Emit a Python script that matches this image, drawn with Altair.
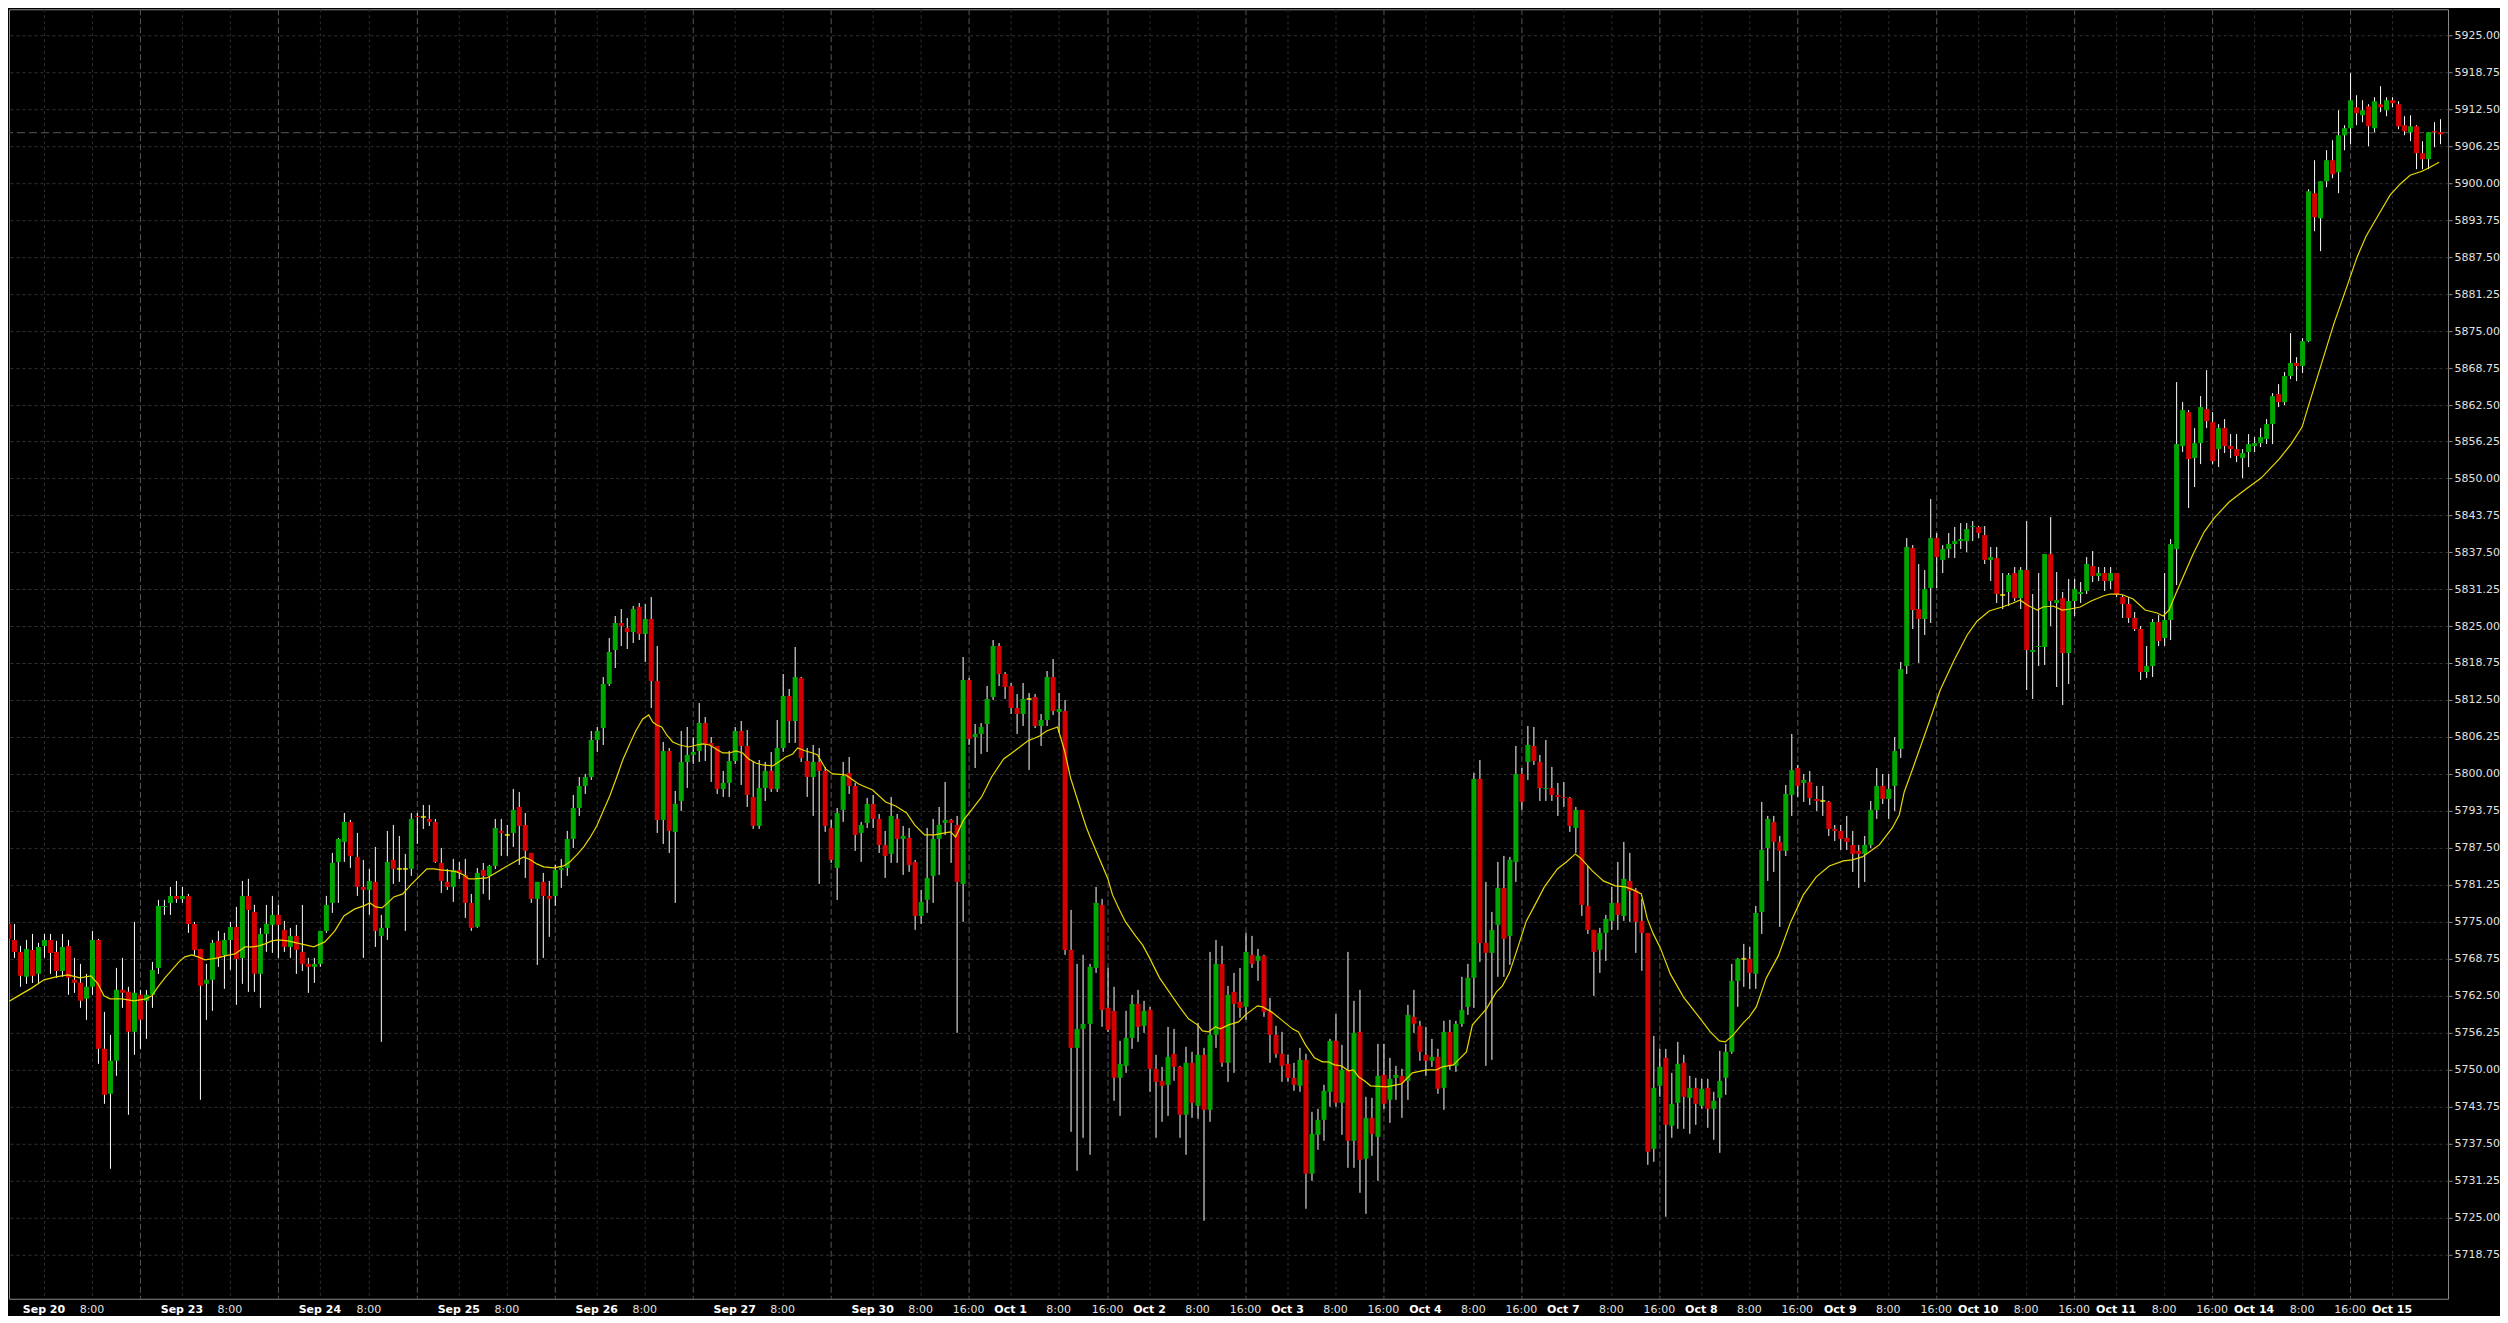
import altair as alt
import pandas as pd

# ---------------- data (hourly candles, Sep 19 17:00 .. Oct 15 8:00) ----------------
opens = [
    5774.75, 5772.0, 5770.0, 5765.75, 5770.25, 5766.25, 5771.0, 5772.0, 5770.0, 5766.75,
    5771.0, 5765.25, 5764.75, 5762.0, 5764.0, 5772.0, 5753.5, 5746.0, 5751.5, 5763.5,
    5763.25, 5756.5, 5762.75, 5761.75, 5762.75, 5767.25, 5777.5, 5778.25, 5779.5, 5779.0,
    5779.5, 5774.75, 5770.5, 5764.5, 5765.25, 5771.75, 5769.5, 5772.0, 5774.25, 5769.0,
    5779.5, 5776.75, 5766.25, 5773.0, 5774.5, 5776.25, 5773.75, 5770.75, 5772.75, 5770.0,
    5768.0, 5767.5, 5768.0, 5773.5, 5778.25, 5785.25, 5788.5, 5792.0, 5786.0, 5781.0,
    5780.5, 5781.75, 5772.75, 5774.0, 5785.5, 5784.0, 5784.0, 5784.0, 5793.0, 5792.75,
    5792.5, 5792.0, 5785.0, 5781.75, 5781.0, 5783.75, 5783.0, 5778.25, 5774.25, 5783.75,
    5782.75, 5784.5, 5790.5, 5789.75, 5790.0, 5794.5, 5791.5, 5786.75, 5779.0, 5781.75,
    5779.5, 5779.5, 5783.75, 5784.25, 5789.0, 5794.25, 5798.0, 5799.5, 5805.75, 5807.75,
    5815.25, 5821.0, 5825.5, 5824.75, 5824.0, 5828.25, 5823.75, 5826.25, 5815.75, 5792.25,
    5804.0, 5790.25, 5795.5, 5802.0, 5803.25, 5804.0, 5808.75, 5805.25, 5804.75, 5797.5,
    5798.5, 5802.25, 5807.25, 5804.75, 5796.25, 5791.25, 5797.75, 5800.5, 5797.5, 5804.5,
    5813.25, 5809.0, 5816.25, 5802.25, 5799.5, 5802.0, 5800.5, 5791.0, 5784.25, 5794.0,
    5800.25, 5798.0, 5790.0, 5791.75, 5795.0, 5792.5, 5788.0, 5786.5, 5792.5, 5789.0,
    5789.25, 5785.25, 5776.0, 5778.75, 5782.75, 5789.0, 5791.75, 5792.25, 5791.5, 5781.5,
    5816.0, 5806.25, 5806.75, 5808.5, 5813.0, 5821.75, 5817.0, 5815.0, 5811.25, 5810.25,
    5812.75, 5813.0, 5808.25, 5809.25, 5816.5, 5810.5, 5810.75, 5770.25, 5753.75, 5757.0,
    5757.75, 5767.25, 5778.0, 5760.5, 5760.0, 5748.75, 5750.75, 5755.5, 5761.25, 5757.5,
    5760.25, 5750.25, 5748.25, 5747.5, 5752.75, 5750.5, 5742.5, 5751.25, 5744.0, 5752.5,
    5743.25, 5756.0, 5768.0, 5751.25, 5763.25, 5761.5, 5760.75, 5769.5, 5768.5, 5769.25,
    5759.75, 5756.0, 5752.75, 5751.0, 5748.75, 5747.25, 5751.75, 5732.5, 5739.0, 5741.5,
    5746.25, 5755.0, 5744.5, 5750.0, 5738.0, 5756.5, 5735.0, 5742.0, 5738.75, 5749.25,
    5745.0, 5748.75, 5749.0, 5748.25, 5759.0, 5757.5, 5752.5, 5751.5, 5752.25, 5747.0,
    5756.5, 5750.75, 5757.75, 5760.75, 5765.5, 5799.25, 5771.5, 5769.75, 5774.5, 5780.75,
    5772.75, 5785.25, 5800.0, 5802.0, 5804.75, 5802.0, 5797.5, 5797.75, 5796.5, 5796.25,
    5796.0, 5791.0, 5794.0, 5777.75, 5773.75, 5770.25, 5773.25, 5775.25, 5778.25, 5776.0,
    5782.0, 5780.5, 5775.25, 5773.25, 5736.75, 5747.25, 5752.0, 5740.5, 5744.5, 5751.25,
    5745.25, 5747.0, 5744.0, 5747.0, 5743.5, 5745.25, 5748.75, 5753.0, 5765.0, 5768.75,
    5768.75, 5766.25, 5776.75, 5787.5, 5792.0, 5788.5, 5787.0, 5796.5, 5801.0, 5798.5,
    5798.75, 5795.75, 5795.5, 5795.25, 5790.75, 5790.5, 5789.25, 5788.0, 5787.0, 5786.5,
    5788.0, 5794.0, 5798.0, 5795.75, 5798.0, 5804.25, 5818.25, 5838.25, 5828.0, 5826.25,
    5831.5, 5840.0, 5836.25, 5838.0, 5839.0, 5839.5, 5839.5, 5841.75, 5841.75, 5840.5,
    5836.25, 5836.5, 5830.25, 5830.75, 5834.0, 5829.75, 5834.5, 5820.75, 5821.5, 5821.5,
    5837.25, 5829.0, 5829.75, 5820.5, 5829.25, 5830.5, 5831.0, 5835.25, 5833.5, 5834.0,
    5832.75, 5834.0, 5830.0, 5828.75, 5826.5, 5824.5, 5817.25, 5818.25, 5825.75, 5823.0,
    5826.0, 5838.0, 5855.5, 5861.25, 5853.5, 5856.0, 5861.75, 5859.5, 5855.0, 5858.5,
    5855.5, 5855.0, 5853.5, 5854.5, 5855.5, 5856.0, 5856.75, 5859.25, 5864.25, 5863.0,
    5867.25, 5869.5, 5869.0, 5873.25, 5898.25, 5894.0, 5900.25, 5903.75, 5901.75, 5908.0,
    5909.25, 5912.75, 5911.5, 5913.0, 5909.25, 5913.25, 5912.25, 5914.0, 5913.25, 5909.75,
    5908.5, 5909.5, 5905.0, 5904.0, 5908.75, 5908.5,
]
highs = [
    5776.75, 5774.75, 5771.0, 5772.0, 5773.0, 5771.5, 5773.0, 5773.0, 5771.75, 5773.0,
    5772.0, 5769.0, 5768.0, 5766.25, 5773.5, 5772.25, 5759.75, 5756.0, 5767.25, 5769.0,
    5764.0, 5775.0, 5763.5, 5763.5, 5768.25, 5778.75, 5778.75, 5781.0, 5782.0, 5781.0,
    5779.75, 5775.0, 5770.5, 5768.0, 5772.0, 5773.5, 5773.25, 5775.0, 5777.5, 5782.0,
    5782.25, 5778.0, 5774.0, 5778.0, 5779.5, 5778.0, 5775.25, 5774.0, 5774.5, 5778.0,
    5769.0, 5769.0, 5773.5, 5779.5, 5786.75, 5789.25, 5793.5, 5792.25, 5790.0, 5785.5,
    5784.0, 5787.75, 5776.25, 5790.5, 5791.5, 5789.5, 5786.5, 5793.5, 5793.5, 5794.75,
    5794.75, 5792.5, 5787.5, 5784.0, 5785.75, 5785.25, 5785.75, 5779.75, 5784.25, 5785.0,
    5784.75, 5792.5, 5792.5, 5791.5, 5797.5, 5797.0, 5793.5, 5786.75, 5781.75, 5783.25,
    5782.0, 5784.75, 5785.75, 5790.5, 5796.5, 5799.5, 5800.0, 5807.25, 5808.0, 5816.5,
    5823.0, 5826.75, 5828.0, 5826.5, 5828.5, 5829.0, 5828.75, 5830.0, 5821.75, 5805.5,
    5804.5, 5797.25, 5807.25, 5808.0, 5806.25, 5812.0, 5809.75, 5806.25, 5804.75, 5800.5,
    5804.0, 5808.0, 5809.0, 5807.5, 5802.25, 5802.5, 5802.0, 5803.75, 5809.25, 5817.0,
    5814.5, 5821.5, 5816.5, 5804.5, 5805.0, 5804.5, 5801.25, 5792.25, 5794.25, 5802.0,
    5803.0, 5798.5, 5792.0, 5796.0, 5796.5, 5793.25, 5790.5, 5796.25, 5793.25, 5791.25,
    5791.0, 5785.5, 5780.5, 5791.0, 5792.5, 5794.5, 5798.75, 5792.5, 5793.0, 5819.75,
    5816.25, 5808.5, 5808.75, 5815.0, 5822.75, 5822.25, 5817.25, 5815.5, 5813.5, 5815.5,
    5813.75, 5813.5, 5810.25, 5817.5, 5819.5, 5813.75, 5812.5, 5777.0, 5768.0, 5769.5,
    5768.0, 5781.0, 5779.0, 5767.25, 5764.0, 5755.0, 5760.0, 5762.75, 5763.5, 5761.75,
    5760.75, 5752.5, 5750.5, 5757.25, 5757.0, 5750.75, 5754.0, 5753.0, 5758.0, 5753.75,
    5770.0, 5772.0, 5771.0, 5764.25, 5766.5, 5767.25, 5773.25, 5772.75, 5770.5, 5769.5,
    5762.25, 5757.5, 5756.5, 5752.5, 5751.25, 5753.75, 5752.75, 5743.0, 5743.5, 5747.5,
    5755.25, 5759.5, 5754.25, 5770.0, 5761.75, 5763.5, 5745.5, 5745.25, 5754.5, 5754.5,
    5752.0, 5750.75, 5750.25, 5761.0, 5763.5, 5758.25, 5757.25, 5755.25, 5753.5, 5758.25,
    5758.5, 5758.25, 5765.75, 5768.0, 5800.25, 5802.5, 5781.75, 5776.75, 5785.25, 5786.25,
    5786.0, 5804.75, 5801.0, 5808.25, 5808.0, 5803.25, 5805.75, 5801.25, 5798.5, 5798.75,
    5796.25, 5794.5, 5794.0, 5784.5, 5773.75, 5774.0, 5776.25, 5781.0, 5785.25, 5788.5,
    5786.75, 5780.75, 5779.0, 5773.25, 5755.75, 5753.5, 5753.5, 5749.5, 5754.75, 5752.5,
    5749.0, 5748.75, 5748.5, 5748.5, 5746.25, 5753.25, 5754.5, 5768.0, 5769.0, 5771.25,
    5770.75, 5777.75, 5795.25, 5793.0, 5793.0, 5789.5, 5798.25, 5806.75, 5801.5, 5800.0,
    5800.5, 5798.0, 5798.0, 5795.5, 5791.5, 5791.5, 5793.0, 5790.5, 5788.0, 5789.5,
    5795.5, 5801.0, 5800.0, 5800.0, 5806.25, 5819.0, 5840.0, 5838.75, 5835.5, 5834.5,
    5846.5, 5840.75, 5838.75, 5840.75, 5841.75, 5842.5, 5842.5, 5842.75, 5842.0, 5842.0,
    5838.5, 5838.5, 5834.0, 5834.0, 5835.0, 5835.0, 5842.75, 5830.5, 5834.0, 5837.25,
    5843.5, 5834.25, 5830.75, 5833.0, 5833.0, 5832.5, 5836.75, 5837.75, 5835.0, 5835.0,
    5835.0, 5834.0, 5830.25, 5830.0, 5827.5, 5825.0, 5821.75, 5826.25, 5827.0, 5834.0,
    5839.75, 5866.25, 5863.0, 5861.5, 5858.5, 5864.0, 5868.25, 5861.25, 5859.25, 5860.0,
    5857.5, 5857.5, 5855.0, 5857.5, 5857.0, 5858.5, 5860.0, 5864.5, 5866.0, 5868.0,
    5874.5, 5870.5, 5873.75, 5899.0, 5903.75, 5900.25, 5905.5, 5907.25, 5912.25, 5909.75,
    5918.5, 5914.75, 5914.0, 5913.25, 5914.5, 5916.25, 5914.5, 5914.5, 5913.75, 5911.25,
    5911.5, 5909.75, 5907.0, 5908.5, 5910.25, 5910.75,
]
lows = [
    5768.5, 5769.0, 5764.0, 5764.5, 5764.75, 5764.75, 5769.0, 5766.25, 5765.5, 5765.75,
    5762.75, 5763.0, 5760.5, 5758.5, 5762.75, 5751.0, 5744.25, 5733.25, 5749.0, 5760.5,
    5742.5, 5752.5, 5753.5, 5755.25, 5760.5, 5766.25, 5776.25, 5776.25, 5778.25, 5778.25,
    5773.25, 5769.5, 5745.0, 5758.5, 5760.0, 5767.5, 5763.75, 5767.0, 5761.0, 5764.5,
    5763.25, 5763.25, 5760.5, 5770.0, 5769.75, 5769.0, 5770.0, 5769.0, 5766.25, 5766.75,
    5763.0, 5764.75, 5767.5, 5773.25, 5776.5, 5778.25, 5785.25, 5784.25, 5779.5, 5769.0,
    5776.25, 5770.75, 5754.75, 5772.0, 5781.5, 5781.75, 5773.5, 5782.75, 5788.25, 5790.75,
    5791.25, 5785.0, 5780.0, 5780.5, 5778.5, 5782.25, 5775.75, 5773.5, 5774.0, 5779.75,
    5778.75, 5784.0, 5786.25, 5786.25, 5787.75, 5784.75, 5782.5, 5778.25, 5767.75, 5769.0,
    5772.5, 5777.75, 5780.75, 5782.75, 5787.5, 5793.0, 5796.75, 5799.0, 5803.75, 5805.0,
    5815.0, 5818.0, 5821.75, 5821.25, 5822.25, 5822.75, 5819.0, 5811.25, 5790.0, 5788.25,
    5786.75, 5778.25, 5793.75, 5797.75, 5801.75, 5802.0, 5802.25, 5798.75, 5796.75, 5796.25,
    5796.25, 5801.75, 5798.25, 5794.5, 5790.75, 5790.75, 5795.5, 5797.0, 5797.0, 5803.75,
    5805.25, 5805.25, 5802.0, 5796.25, 5793.0, 5781.5, 5790.25, 5785.0, 5778.75, 5792.0,
    5796.75, 5787.0, 5785.25, 5791.0, 5791.0, 5786.75, 5782.5, 5785.0, 5785.0, 5783.0,
    5783.5, 5773.75, 5774.75, 5776.5, 5778.25, 5783.0, 5789.75, 5785.0, 5756.25, 5775.0,
    5805.0, 5801.0, 5803.5, 5803.75, 5812.5, 5815.0, 5812.75, 5810.25, 5806.75, 5808.25,
    5800.75, 5807.75, 5804.75, 5808.25, 5810.0, 5807.0, 5769.5, 5739.5, 5733.0, 5738.5,
    5735.75, 5766.5, 5757.25, 5756.5, 5744.75, 5742.25, 5749.5, 5753.5, 5754.75, 5756.25,
    5746.25, 5738.5, 5741.25, 5742.25, 5748.25, 5738.5, 5735.75, 5742.0, 5741.75, 5724.5,
    5741.25, 5753.75, 5750.5, 5748.0, 5749.5, 5758.75, 5758.5, 5767.25, 5765.0, 5759.0,
    5751.25, 5752.0, 5748.0, 5748.0, 5746.5, 5746.25, 5726.5, 5731.25, 5736.5, 5738.0,
    5743.75, 5743.75, 5739.0, 5733.5, 5733.5, 5729.25, 5725.75, 5735.5, 5731.25, 5743.5,
    5741.0, 5745.0, 5742.0, 5745.0, 5756.25, 5751.5, 5749.0, 5750.5, 5746.0, 5743.25,
    5750.0, 5749.75, 5757.25, 5759.25, 5760.5, 5768.25, 5750.75, 5751.75, 5765.75, 5765.75,
    5767.75, 5781.75, 5794.0, 5799.0, 5801.5, 5795.5, 5795.5, 5795.5, 5793.0, 5794.5,
    5790.25, 5786.75, 5776.0, 5773.0, 5762.5, 5766.5, 5768.5, 5773.75, 5773.75, 5775.25,
    5775.0, 5769.75, 5766.75, 5734.0, 5734.5, 5745.5, 5725.25, 5738.5, 5740.0, 5740.0,
    5739.25, 5740.75, 5743.5, 5740.25, 5738.25, 5736.0, 5745.75, 5752.75, 5760.75, 5764.0,
    5763.75, 5763.75, 5773.0, 5782.0, 5783.5, 5774.25, 5786.25, 5793.0, 5796.25, 5795.25,
    5794.75, 5793.75, 5793.0, 5789.5, 5788.75, 5787.25, 5787.25, 5783.5, 5780.75, 5781.75,
    5787.5, 5792.5, 5795.0, 5792.5, 5793.75, 5802.75, 5817.0, 5824.5, 5818.75, 5823.5,
    5825.5, 5831.5, 5834.0, 5836.5, 5836.5, 5838.0, 5837.5, 5839.5, 5840.0, 5835.5,
    5832.75, 5829.0, 5828.0, 5828.5, 5829.25, 5828.0, 5814.25, 5812.75, 5818.25, 5818.5,
    5825.0, 5814.75, 5811.75, 5815.25, 5826.75, 5829.0, 5830.5, 5832.5, 5832.75, 5831.0,
    5831.25, 5830.0, 5826.5, 5825.5, 5824.25, 5816.0, 5816.25, 5816.5, 5821.75, 5821.75,
    5822.75, 5832.0, 5854.5, 5845.0, 5848.5, 5852.5, 5858.5, 5852.5, 5852.0, 5854.25,
    5853.5, 5852.75, 5850.0, 5852.0, 5854.5, 5855.25, 5855.75, 5855.75, 5862.0, 5862.5,
    5866.75, 5866.5, 5867.75, 5873.0, 5891.75, 5888.5, 5899.25, 5900.75, 5898.25, 5905.5,
    5906.5, 5909.75, 5910.25, 5906.25, 5908.5, 5912.0, 5911.25, 5912.75, 5909.0, 5908.0,
    5907.0, 5902.25, 5902.25, 5902.25, 5906.0, 5906.5,
]
closes = [
    5772.25, 5770.0, 5766.0, 5770.5, 5766.0, 5770.75, 5772.0, 5769.75, 5766.75, 5770.75,
    5765.5, 5764.75, 5761.75, 5764.0, 5772.0, 5753.5, 5745.75, 5751.5, 5763.5, 5763.0,
    5756.5, 5763.0, 5758.5, 5762.75, 5767.0, 5777.75, 5777.75, 5779.5, 5779.0, 5779.5,
    5774.75, 5770.25, 5764.25, 5765.25, 5771.5, 5769.0, 5772.0, 5774.25, 5768.75, 5779.5,
    5777.0, 5766.25, 5773.0, 5774.75, 5776.25, 5774.5, 5770.75, 5772.75, 5770.25, 5768.0,
    5767.5, 5768.0, 5773.5, 5778.0, 5785.0, 5789.0, 5792.0, 5786.25, 5781.0, 5780.5,
    5782.0, 5773.5, 5774.0, 5785.25, 5784.0, 5784.0, 5784.0, 5792.5, 5792.75, 5792.75,
    5792.0, 5785.25, 5782.0, 5781.0, 5783.75, 5783.25, 5778.25, 5774.0, 5783.25, 5782.75,
    5784.5, 5791.0, 5790.0, 5789.75, 5794.0, 5791.25, 5787.0, 5779.0, 5781.75, 5779.5,
    5779.0, 5783.75, 5784.25, 5789.0, 5794.25, 5798.0, 5799.5, 5805.75, 5807.25, 5815.25,
    5820.75, 5825.5, 5825.0, 5824.0, 5828.0, 5823.75, 5826.25, 5815.75, 5792.25, 5804.0,
    5790.5, 5795.0, 5802.0, 5803.25, 5803.75, 5808.75, 5805.0, 5804.75, 5797.5, 5798.5,
    5802.25, 5807.25, 5804.75, 5796.5, 5791.25, 5797.75, 5800.5, 5797.5, 5804.5, 5813.25,
    5809.0, 5816.5, 5802.75, 5799.5, 5802.0, 5800.5, 5791.25, 5785.5, 5793.5, 5799.75,
    5798.0, 5789.75, 5791.5, 5795.0, 5792.5, 5788.0, 5786.25, 5793.0, 5789.0, 5789.5,
    5784.75, 5776.0, 5778.5, 5782.5, 5789.0, 5791.5, 5792.25, 5791.75, 5781.75, 5816.0,
    5806.0, 5806.75, 5808.0, 5812.75, 5821.75, 5817.0, 5814.75, 5811.25, 5810.25, 5812.75,
    5812.75, 5808.25, 5809.25, 5816.5, 5810.75, 5811.0, 5770.25, 5753.75, 5757.0, 5757.75,
    5767.5, 5778.25, 5760.25, 5756.75, 5748.75, 5751.0, 5755.5, 5761.25, 5757.25, 5760.0,
    5750.25, 5748.0, 5747.25, 5752.25, 5750.5, 5742.5, 5751.25, 5744.5, 5752.5, 5743.25,
    5756.0, 5768.0, 5751.25, 5762.75, 5761.25, 5760.5, 5770.0, 5768.0, 5769.25, 5759.75,
    5756.0, 5752.75, 5750.75, 5748.75, 5747.5, 5751.75, 5732.5, 5739.25, 5741.5, 5746.5,
    5755.0, 5744.5, 5750.0, 5738.0, 5756.25, 5734.75, 5742.0, 5739.25, 5749.0, 5744.25,
    5748.5, 5749.25, 5747.75, 5759.25, 5757.75, 5753.0, 5751.5, 5752.25, 5746.75, 5756.5,
    5750.75, 5757.75, 5760.25, 5765.5, 5799.25, 5771.5, 5769.75, 5773.75, 5780.75, 5772.25,
    5785.5, 5800.0, 5795.25, 5805.0, 5802.25, 5797.75, 5797.75, 5796.5, 5796.25, 5796.0,
    5791.25, 5794.0, 5778.0, 5773.75, 5770.0, 5773.25, 5775.5, 5778.25, 5776.25, 5782.25,
    5780.25, 5775.0, 5773.25, 5736.25, 5747.0, 5750.5, 5740.75, 5744.25, 5751.0, 5745.5,
    5747.0, 5744.25, 5746.75, 5743.5, 5744.75, 5748.25, 5753.0, 5765.0, 5768.75, 5768.75,
    5766.5, 5776.5, 5787.25, 5792.5, 5788.5, 5787.0, 5796.75, 5800.75, 5798.0, 5799.0,
    5796.0, 5795.5, 5795.5, 5790.75, 5790.5, 5789.0, 5788.5, 5786.5, 5786.5, 5788.0,
    5794.0, 5798.0, 5795.75, 5797.5, 5804.0, 5817.75, 5838.5, 5827.75, 5826.25, 5831.25,
    5840.0, 5836.75, 5838.0, 5839.0, 5839.5, 5839.75, 5841.5, 5842.0, 5840.75, 5836.25,
    5836.75, 5830.5, 5830.25, 5833.75, 5829.75, 5834.5, 5821.0, 5821.0, 5821.75, 5837.25,
    5829.25, 5829.5, 5820.5, 5829.25, 5831.25, 5830.75, 5835.5, 5833.5, 5834.0, 5832.75,
    5834.0, 5830.25, 5828.75, 5826.5, 5824.5, 5817.25, 5818.25, 5825.75, 5822.5, 5826.0,
    5839.0, 5855.75, 5861.5, 5853.25, 5856.0, 5862.0, 5859.75, 5853.0, 5858.5, 5855.5,
    5855.0, 5853.75, 5854.25, 5855.75, 5856.0, 5857.0, 5859.25, 5864.0, 5863.0, 5867.25,
    5869.5, 5869.0, 5873.25, 5898.5, 5894.25, 5900.25, 5903.75, 5901.5, 5908.0, 5909.25,
    5914.0, 5911.75, 5912.25, 5909.5, 5913.75, 5912.75, 5914.0, 5913.5, 5909.5, 5908.75,
    5909.5, 5905.0, 5904.0, 5908.5, 5908.5, 5908.25,
]

# yellow moving-average line (candle position, price)
ma_pos = [
    0, 2, 4, 6, 8, 10, 12, 13.8, 15, 16, 17, 19, 21, 23, 24, 25, 26.2, 27.3, 28.4, 29.5,
    30.6, 31.7, 32.8, 34, 35, 36.1, 37.8, 39.4, 40.6, 41.7, 42.8, 43.9, 45, 46.6, 48.8, 51,
    52.7, 54.4, 56, 57.7, 59.3, 60.3, 61.3, 62.2, 63.2, 64.3, 65.7, 67.1, 68.7, 69.8, 70.9,
    72, 73.7, 74.8, 75.9, 76.7, 77.6, 79.8, 80.9, 82.5, 83.7, 84.8, 85.9, 87, 88.1, 89.2,
    90.8, 92.5, 93.6, 94.7, 95.8, 96.9, 98, 99.1, 100.2, 101.3, 102.4, 103.5, 104.6, 105.75,
    106.7, 107.4, 108, 108.8, 109.6, 110.7, 111.8, 113.4, 114.6, 115.7, 116.8, 118.1, 119,
    120.1, 121.2, 122.3, 123.4, 124.5, 125.7, 127.3, 128.4, 129.5, 130.6, 131.5, 132.8,
    133.9, 134.8, 136.1, 137.3, 139.5, 141.7, 143.9, 146.1, 147.8, 149.7, 151, 152.7, 154.3,
    156, 156.9, 157.8, 159.1, 160.5, 162.1, 163.8, 165.7, 167.6, 169.8, 171.8, 172.9, 174.8,
    175.9, 177, 178.1, 178.9, 179.5, 180.3, 183.1, 183.9, 185, 186.1, 187.8, 188.9, 190,
    191.7, 193.6, 195, 196.6, 198, 198.9, 199.9, 201.1, 201.9, 203.3, 204.9, 206, 208,
    208.8, 210.4, 212.1, 213.8, 214.9, 216, 217.6, 218.8, 219.9, 220.9, 222.1, 223.2, 224,
    224.8, 225.9, 226.8, 229.5, 232, 233.9, 236.1, 237.8, 238.9, 240.6, 241.7, 242.8, 243.9,
    246.1, 247.8, 248.9, 250, 251.1, 252.8, 253.9, 255.8, 258, 259.4, 261, 261.8, 263.8,
    265.7, 267.6, 269.3, 270.7, 271.9, 272.9, 274, 275.1, 276.8, 278.9, 281.2, 283.4, 285,
    285.9, 287.2, 288.9, 290, 291.1, 292.8, 294.7, 296.7, 298.9, 301.1, 303.3, 305.5, 307.1,
    308.8, 309.9, 311.5, 313.8, 314.9, 315.7, 317.1, 319.9, 321.8, 324, 326.2, 327.9, 329.8,
    332, 333.9, 335.1, 336.2, 337.8, 338.9, 340.6, 342, 343.3, 345, 346.9, 348.9, 350, 351.4,
    352.2, 353.9, 355.8, 357.8, 358.8, 359.9, 361, 362.7, 363.8, 365.7, 367.4, 369.9, 372.6,
    375.1, 378.2, 380.1, 382, 382.9, 385.1, 387.3, 389.5, 391.1, 392.7, 395, 396.7, 398.3,
    400, 401.9, 403.3, 404.8,
]
ma_val = [
    5761.5, 5762.7, 5763.9, 5765.2, 5765.8, 5766.1, 5765.6, 5766.0, 5764.5, 5762.6, 5762.1,
    5762.0, 5761.7, 5762.0, 5762.6, 5764.0, 5765.6, 5767.0, 5768.2, 5769.1, 5769.4, 5769.1,
    5768.7, 5768.8, 5769.0, 5769.3, 5769.7, 5770.8, 5770.9, 5771.0, 5771.4, 5771.8, 5772.0,
    5771.9, 5771.3, 5770.8, 5771.6, 5773.6, 5776.0, 5777.2, 5777.8, 5778.2, 5777.6, 5777.4,
    5778.3, 5779.2, 5779.8, 5781.3, 5783.0, 5784.0, 5784.0, 5783.8, 5783.6, 5783.5, 5783.0,
    5782.3, 5782.3, 5782.5, 5783.1, 5784.1, 5784.8, 5785.6, 5786.1, 5785.5, 5784.9, 5784.4,
    5784.1, 5784.5, 5785.2, 5786.3, 5787.7, 5789.2, 5791.2, 5793.6, 5796.4, 5799.6, 5802.4,
    5805.2, 5807.3, 5809.3, 5810.0, 5808.9, 5808.3, 5808.0, 5806.6, 5805.4, 5804.9, 5804.7,
    5805.0, 5805.1, 5805.0, 5804.1, 5803.6, 5803.6, 5803.9, 5803.6, 5802.6, 5801.9, 5801.6,
    5801.4, 5802.1, 5803.0, 5803.4, 5804.4, 5803.9, 5803.6, 5803.2, 5800.9, 5800.1, 5799.9,
    5798.3, 5797.4, 5795.4, 5794.6, 5793.5, 5791.4, 5789.7, 5789.7, 5790.0, 5790.2, 5789.4,
    5792.2, 5794.0, 5796.2, 5799.6, 5802.6, 5804.0, 5805.6, 5806.5, 5807.4, 5808.0, 5804.0,
    5799.4, 5795.6, 5793.0, 5791.0, 5789.3, 5782.4, 5779.6, 5777.0, 5775.0, 5772.7, 5771.1,
    5768.9, 5765.5, 5762.9, 5760.6, 5758.6, 5757.7, 5756.6, 5756.4, 5757.3, 5756.9, 5757.7,
    5758.2, 5759.3, 5760.8, 5760.7, 5759.9, 5758.5, 5757.0, 5756.5, 5754.3, 5752.1, 5751.3,
    5751.4, 5750.9, 5750.7, 5749.8, 5750.0, 5748.8, 5748.1, 5747.4, 5747.2, 5747.6, 5749.6,
    5750.1, 5750.0, 5750.5, 5750.8, 5751.9, 5753.1, 5757.6, 5760.3, 5763.2, 5764.2, 5766.4,
    5770.0, 5775.2, 5777.4, 5781.0, 5784.0, 5785.2, 5786.5, 5785.9, 5783.6, 5781.9, 5781.1,
    5780.9, 5780.5, 5779.7, 5775.5, 5773.0, 5770.6, 5766.2, 5762.4, 5759.3, 5756.4, 5755.0,
    5754.8, 5755.9, 5758.0, 5759.0, 5760.7, 5765.5, 5769.3, 5774.9, 5779.6, 5782.6, 5784.5,
    5785.4, 5785.6, 5786.0, 5786.8, 5788.1, 5790.9, 5793.2, 5797.0, 5800.7, 5808.8, 5814.2,
    5819.3, 5823.6, 5825.9, 5827.6, 5828.3, 5828.9, 5829.5, 5828.6, 5827.7, 5828.3, 5828.5,
    5827.7, 5828.0, 5828.3, 5829.3, 5830.1, 5830.5, 5830.5, 5830.3, 5829.6, 5827.8, 5827.2,
    5826.8, 5827.7, 5830.7, 5834.6, 5837.3, 5840.9, 5843.3, 5846.0, 5848.2, 5850.0, 5853.3,
    5855.9, 5858.7, 5862.0, 5869.2, 5876.2, 5882.6, 5887.4, 5891.0, 5895.0, 5897.9, 5899.8,
    5901.3, 5901.9, 5902.7, 5903.45,
]

bid_price = 5908.5  # dashed current-price line

# session structure: 6 candles of Sep 19, then 23 hourly candles per trading day
lead_candles = 6
candles_per_day = 23
day_names = ["Sep 20", "Sep 23", "Sep 24", "Sep 25", "Sep 26", "Sep 27", "Sep 30",
             "Oct 1", "Oct 2", "Oct 3", "Oct 4", "Oct 7", "Oct 8", "Oct 9", "Oct 10",
             "Oct 11", "Oct 14", "Oct 15"]
grid_hours = [0, 8, 16]
first_day_with_16h_label = "Sep 30"
last_marked_candle = 397  # Oct 15 0:00 is the last time mark shown

y_ticks = [5718.75, 5725.0, 5731.25, 5737.5, 5743.75, 5750.0, 5756.25, 5762.5, 5768.75,
           5775.0, 5781.25, 5787.5, 5793.75, 5800.0, 5806.25, 5812.5, 5818.75, 5825.0,
           5831.25, 5837.5, 5843.75, 5850.0, 5856.25, 5862.5, 5868.75, 5875.0, 5881.25,
           5887.5, 5893.75, 5900.0, 5906.25, 5912.5, 5918.75, 5925.0]

# ---------------- tables ----------------
n = len(closes)
candles = pd.DataFrame({"i": list(range(n)), "open": opens, "high": highs,
                        "low": lows, "close": closes})
candles["dir"] = ["up" if c > o else ("down" if c < o else "flat")
                  for o, c in zip(opens, closes)]
ma = pd.DataFrame({"pos": ma_pos, "val": ma_val})

grid_rows, label_rows = [], []
d16 = day_names.index(first_day_with_16h_label)
for i in range(lead_candles, last_marked_candle + 1):
    d, h = divmod(i - lead_candles, candles_per_day)
    if h not in grid_hours:
        continue
    grid_rows.append({"i": i, "kind": "major" if h == 16 else "minor"})
    if h == 0:
        label_rows.append({"i": i, "text": day_names[d], "bold": True})
    elif h == 8 or d >= d16:
        label_rows.append({"i": i, "text": f"{h}:00", "bold": False})
grid = pd.DataFrame(grid_rows)
labels = pd.DataFrame(label_rows)

# ---------------- chart ----------------
W, H = 2440, 1290
xs = alt.Scale(domain=[0.9945, 405.44], nice=False, zero=False, round=True)
ys = alt.Scale(domain=[5711.33, 5929.34], nice=False, zero=False, round=True)
X = alt.X("i:Q", scale=xs, axis=None)
yaxis = alt.Axis(orient="right", values=y_ticks, format=".2f", title=None,
                 grid=True, gridColor="#333333", gridDash=[3, 3], gridWidth=1,
                 domain=False, ticks=True, tickColor="#8c8c8c", tickSize=4,
                 labelColor="#e0e0e0", labelFont="DejaVu Sans", labelFontSize=11,
                 labelPadding=2, labelFlush=False, labelOverlap=False)


def Y(field):
    return alt.Y(field, scale=ys, axis=yaxis)


minor_grid = alt.Chart(grid).transform_filter("datum.kind == 'minor'").mark_rule(
    color="#2e2e2e", strokeWidth=1, strokeDash=[3, 3], xOffset=0.5).encode(x=X)
major_grid = alt.Chart(grid).transform_filter("datum.kind == 'major'").mark_rule(
    color="#555555", strokeWidth=1, strokeDash=[6, 3], xOffset=0.5).encode(x=X)

bid = alt.Chart(pd.DataFrame({"p": [bid_price]})).mark_rule(
    color="#5a5a5a", strokeWidth=1, strokeDash=[8, 4], yOffset=0.5).encode(y=Y("p:Q"))

wicks = alt.Chart(candles).mark_rule(color="#ffffff", strokeWidth=1, xOffset=0.5,
                                     clip=True).encode(x=X, y=Y("low:Q"), y2="high:Q")

bodies = alt.Chart(candles).transform_filter("datum.dir != 'flat'").mark_bar(
    size=5, xOffset=0.5, clip=True).encode(
    x=X,
    y=Y("open:Q"),
    y2="close:Q",
    color=alt.Color("dir:N", scale=alt.Scale(domain=["up", "down"],
                                             range=["#00a600", "#d40000"]), legend=None),
)

doji = alt.Chart(candles).transform_filter("datum.dir == 'flat'").mark_tick(
    color="#ffff00", thickness=2, size=5, orient="horizontal", xOffset=0.5,
    clip=True).encode(x=X, y=Y("open:Q"))

ma_line = alt.Chart(ma).mark_line(color="#e6d800", strokeWidth=1.2, clip=True).encode(
    x=alt.X("pos:Q", scale=xs, axis=None),
    y=Y("val:Q"),
)

day_text = alt.Chart(labels).transform_filter("datum.bold").mark_text(
    font="DejaVu Sans", fontSize=11, fontWeight="bold", color="#ffffff",
    align="center", baseline="alphabetic").encode(x=X, y=alt.value(H + 14.5), text="text:N")
hour_text = alt.Chart(labels).transform_filter("!datum.bold").mark_text(
    font="DejaVu Sans", fontSize=11, color="#e0e0e0",
    align="center", baseline="alphabetic").encode(x=X, y=alt.value(H + 14.5), text="text:N")

chart = alt.layer(
    minor_grid, major_grid, bid, wicks, bodies, doji, ma_line, day_text, hour_text
).properties(width=W, height=H, padding=0).configure(
    background="#000000"
).configure_view(stroke="#8c8c8c", strokeWidth=1, fill="#000000")

chart.save("out.html", embed_options={"renderer": "svg", "actions": False})
